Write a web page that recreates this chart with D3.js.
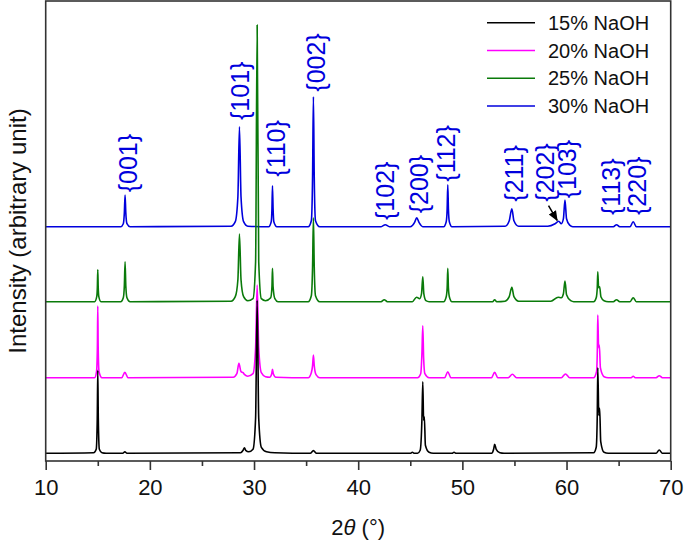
<!DOCTYPE html>
<html>
<head>
<meta charset="utf-8">
<script src="https://cdn.jsdelivr.net/npm/d3@7"></script>
<style>
  html, body { margin: 0; padding: 0; background: #fff; }
  svg { display: block; font-family: "Liberation Sans", Arial, Helvetica, sans-serif; }
</style>
</head>
<body>
<svg id="chart" width="685" height="550"></svg>
<script>
// ---------------- data ----------------
const seriesNames = ["15% NaOH", "20% NaOH", "25% NaOH", "30% NaOH"];
const seriesColors = ["#000000", "#ff00ff", "#0a7a0a", "#0000dd"];
const seriesOffsets = [7.7, 83.3, 159.3, 234.3]; // vertical stacking offsets (arbitrary units)

const xTicks = [10, 20, 30, 40, 50, 60, 70];
const xMinorTicks = [15, 25, 35, 45, 55, 65];

const naoh15 = [
  [10,0],
  [14.6,0.5],[14.85,4],[14.95,35],[15.0,83],[15.05,35],[15.15,4],[15.4,0.5],[15.8,0],
  [17.4,0],[17.6,1.5],[17.8,0],
  [28.7,0.5],[28.95,3],[29.08,5.6],[29.2,3],[29.5,1.5],[29.9,4],[30.15,35],[30.3,153],[30.45,35],[30.7,6],[31.2,1.5],[32.0,0.5],
  [35.4,0],[35.7,2.7],[36.0,0],
  [45.0,0],[45.2,1],[45.4,0],
  [45.7,0],[45.95,3],[46.12,35],[46.2,71.6],[46.28,33],[46.35,36.6],[46.45,8],[46.8,1],[47.2,0],
  [49.0,0],[49.2,1],[49.4,0],
  [52.8,0],[53.0,4],[53.1,9],[53.25,4],[53.6,0.5],[54.0,0],
  [62.6,0.5],[62.85,6],[62.95,38],[63.0,85.6],[63.1,38],[63.18,45],[63.28,12],[63.6,1],[64.0,0],
  [68.6,0],[68.9,3.3],[69.2,0],
  [70,0]
];

const naoh20 = [
  [10,0],
  [14.7,0],[14.88,6],[14.96,30],[15.0,71.7],[15.04,30],[15.12,6],[15.4,0],
  [17.3,0],[17.6,5.4],[17.9,0],
  [28.0,0.5],[28.35,4],[28.55,14.4],[28.75,6],[28.95,5],[29.1,3],[29.4,1.5],
  [29.9,4],[30.15,30],[30.3,92.7],[30.45,30],[30.7,5],[31.1,1],
  [31.5,0.5],[31.7,4],[31.77,8.4],[31.85,4],[32.1,0.5],
  [35.2,0],[35.5,5],[35.62,12],[35.7,22.7],[35.78,12],[35.95,3],[36.3,0],
  [45.7,0],[46.0,4],[46.12,25],[46.2,52],[46.28,20],[46.4,4],[46.8,0],
  [48.3,0],[48.6,6],[48.9,0],
  [52.8,0],[53.1,5.4],[53.4,0],
  [54.4,0],[54.8,3.4],[55.2,0],
  [59.5,0],[59.9,3.7],[60.3,0],
  [62.6,0],[62.88,6],[62.96,30],[63.0,62.7],[63.08,30],[63.15,32.7],[63.25,10],[63.6,1],[64.0,0],
  [66.2,0],[66.4,1.5],[66.6,0],
  [68.6,0],[68.9,2],[69.2,0],
  [70,0]
];

const naoh25 = [
  [10,0],
  [14.7,0],[14.9,5],[14.96,15],[15.0,32],[15.04,15],[15.1,5],[15.3,0],
  [17.2,0],[17.45,4],[17.55,16],[17.62,40],[17.69,16],[17.8,4],[18.1,0],
  [27.8,0.5],[28.2,5],[28.45,22],[28.6,67.7],[28.75,22],[29.0,5],[29.4,1],
  [29.9,3],[30.15,40],[30.3,276.7],[30.45,40],[30.7,3],[31.1,1],
  [31.6,4],[31.72,15],[31.77,33.4],[31.83,15],[32.0,3],[32.3,0],
  [35.2,0],[35.5,6],[35.62,35],[35.7,84],[35.78,35],[35.9,6],[36.3,0],
  [42.2,0],[42.5,2],[42.8,0],
  [45.2,0],[45.6,4.5],[45.9,3],[46.08,8],[46.2,25],[46.3,8],[46.5,1],[46.8,0],
  [48.2,0],[48.45,5],[48.54,14],[48.6,33.4],[48.66,14],[48.75,5],[49.0,0],
  [52.9,0],[53.1,2],[53.3,0],
  [54.1,0.5],[54.5,5],[54.75,14.4],[54.95,5],[55.4,0.5],
  [58.5,0.5],[59.2,4.5],[59.5,4],[59.7,8],[59.85,20.7],[60.0,7],[60.4,1],[60.7,0],
  [62.6,0],[62.85,4],[62.95,14],[63.0,30],[63.08,14],[63.18,15],[63.3,5],[63.6,1],[64.0,0],
  [64.5,0],[64.8,2],[65.1,0],
  [66.1,0],[66.4,4],[66.7,0],
  [70,0]
];

const naoh30 = [
  [10,0],
  [17.2,0],[17.45,3],[17.55,14],[17.62,31.7],[17.69,14],[17.8,3],[18.1,0],
  [27.8,0.5],[28.2,5],[28.45,30],[28.6,100],[28.75,30],[29.0,5],[29.4,0.5],
  [31.4,0],[31.65,5],[31.72,18],[31.77,41],[31.83,18],[31.9,5],[32.2,0],
  [35.2,0],[35.5,6],[35.62,50],[35.7,130],[35.78,50],[35.9,6],[36.3,0],
  [42.2,0],[42.6,2],[43.0,0],
  [45.0,0],[45.4,4],[45.62,9],[45.85,4],[46.2,0],
  [48.2,0],[48.45,5],[48.54,18],[48.6,42],[48.66,18],[48.75,5],[49.0,0],
  [54.1,0.5],[54.5,6],[54.75,18],[54.95,6],[55.4,0.5],
  [58.2,0.5],[58.9,3],[59.25,5.5],[59.5,3],[59.7,8],[59.85,26.7],[60.0,8],[60.3,1.5],[60.6,0],
  [64.5,0],[64.8,2],[65.1,0],
  [66.1,0],[66.4,5],[66.7,0],
  [70,0]
];

// Miller-index labels on the 30% pattern: [label, 2θ, intensity above the 30% baseline]
const peakLabels = [
  ["{001}", 17.88, 34.4],
  ["{101}", 28.66, 106.7],
  ["{110}", 32.12, 50],
  ["{002}", 35.92, 135],
  ["{102}", 42.59, 6.7],
  ["{200}", 45.79, 13.4],
  ["{112}", 48.45, 45],
  ["{211}", 54.92, 25],
  ["{202}", 57.97, 25],
  ["{103}", 60.05, 28.4],
  ["{113}", 64.27, 11.7],
  ["{220}", 66.77, 11.7]
];
// arrow pointing to the {202} shoulder: [2θ from, I from, 2θ to, I to] (30% pattern units)
const arrowData = [58.27, 21, 59.1, 6.3];

const seriesData = [naoh15, naoh20, naoh25, naoh30];

// ---------------- drawing ----------------
const svg = d3.select("#chart");
const margin = { left: 45.7, right: 14.3, top: 1, bottom: 89 };
const W = 685, H = 550;

const x = d3.scaleLinear().domain([10, 70]).range([margin.left, W - margin.right]);
const y = d3.scaleLinear().domain([0, 460]).range([H - margin.bottom, margin.top]);

const defs = svg.append("defs");
defs.append("clipPath").attr("id", "plotclip").append("rect")
  .attr("x", x(10)).attr("y", y(460)).attr("width", x(70) - x(10)).attr("height", y(0) - y(460));
defs.append("marker").attr("id", "arrowhead")
  .attr("viewBox", "0 0 10 10").attr("refX", 9).attr("refY", 5)
  .attr("markerWidth", 7).attr("markerHeight", 7).attr("orient", "auto")
  .append("path").attr("d", "M0,1 L10,5 L0,9 Z").attr("fill", "#000");

const frameColor = "#333";

// series (draw 30% first so lower patterns' spikes sit on top)
const plot = svg.append("g").attr("clip-path", "url(#plotclip)");
const order = [3, 2, 1, 0];
order.forEach(i => {
  const off = seriesOffsets[i];
  const line = d3.line().x(d => x(d[0])).y(d => y(d[1] + off)).curve(d3.curveMonotoneX);
  plot.append("path").datum(seriesData[i])
    .attr("d", line).attr("fill", "none")
    .attr("stroke", seriesColors[i]).attr("stroke-width", 1.6)
    .attr("stroke-linejoin", "round");
});

// frame
svg.append("rect")
  .attr("x", x(10)).attr("y", y(460))
  .attr("width", x(70) - x(10)).attr("height", y(0) - y(460))
  .attr("fill", "none").attr("stroke", frameColor).attr("stroke-width", 1.6);

// bottom axis
const xAxis = d3.axisBottom(x).tickValues(xTicks).tickSize(9).tickPadding(9).tickFormat(d3.format("d"));
const gx = svg.append("g").attr("transform", `translate(0,${y(0)})`).call(xAxis);
gx.select(".domain").remove();
gx.selectAll(".tick line").attr("stroke", frameColor).attr("stroke-width", 1.6);
gx.selectAll(".tick text").attr("font-size", 22).attr("fill", "#111")
  .attr("font-family", "'Liberation Sans', Arial, sans-serif");
const xMinor = d3.axisBottom(x).tickValues(xMinorTicks).tickSize(5).tickFormat("");
const gxm = svg.append("g").attr("transform", `translate(0,${y(0)})`).call(xMinor);
gxm.select(".domain").remove();
gxm.selectAll(".tick line").attr("stroke", frameColor).attr("stroke-width", 1.6);

// axis titles
const xt = svg.append("text").attr("x", (x(10) + x(70)) / 2).attr("y", 535)
  .attr("text-anchor", "middle").attr("font-size", 22).attr("fill", "#111");
xt.append("tspan").text("2");
xt.append("tspan").attr("font-style", "italic").text("θ");
xt.append("tspan").text(" (°)");

svg.append("text")
  .attr("transform", `translate(26,${(y(0) + y(460)) / 2}) rotate(-90)`)
  .attr("text-anchor", "middle").attr("font-size", 24).attr("fill", "#111")
  .text("Intensity (arbitrary unit)");

// peak labels
const blueOff = seriesOffsets[3];
svg.append("g").selectAll("text").data(peakLabels).join("text")
  .attr("transform", d => `translate(${x(d[1])},${y(d[2] + blueOff)}) rotate(-90)`)
  .attr("text-anchor", "start").attr("dominant-baseline", "central")
  .attr("font-size", 25).attr("fill", "#0000dd")
  .text(d => d[0]);

// arrow
svg.append("line")
  .attr("x1", x(arrowData[0])).attr("y1", y(arrowData[1] + blueOff))
  .attr("x2", x(arrowData[2])).attr("y2", y(arrowData[3] + blueOff))
  .attr("stroke", "#000").attr("stroke-width", 1.5).attr("marker-end", "url(#arrowhead)");

// legend
const lg = svg.append("g");
seriesNames.forEach((name, i) => {
  const yy = 22.7 + i * 27.8;
  lg.append("line").attr("x1", 487).attr("x2", 535).attr("y1", yy).attr("y2", yy)
    .attr("stroke", seriesColors[i]).attr("stroke-width", 1.5);
  lg.append("text").attr("x", 548).attr("y", yy).attr("dominant-baseline", "central")
    .attr("font-size", 20).attr("fill", "#111").text(name);
});
</script>
</body>
</html>
